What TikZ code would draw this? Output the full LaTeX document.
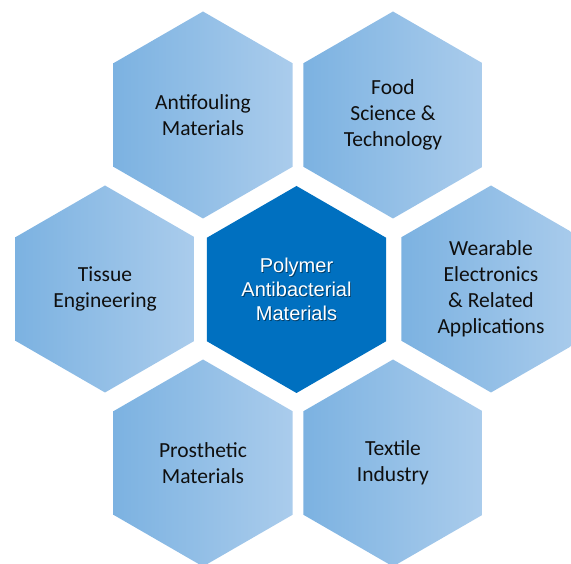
\documentclass[tikz,border=0pt]{standalone}
\usepackage{fontspec}
\setmainfont{Carlito}
\newfontfamily\hubfont{Liberation Sans}
\usetikzlibrary{shapes.geometric}
\definecolor{hexleft}{RGB}{124,178,225}
\definecolor{hexright}{RGB}{170,204,236}
\definecolor{hubblue}{RGB}{0,112,192}
\definecolor{hextext}{RGB}{15,15,15}
\tikzset{
  hexbase/.style={regular polygon,regular polygon sides=6,shape border rotate=30,
                  minimum size=207pt,inner sep=0pt,align=center},
  hexa/.style={hexbase,left color=hexleft,right color=hexright,text=hextext,
               font=\fontsize{21.5}{26}\selectfont},
  hub/.style={hexbase,fill=hubblue},
  hubtext/.style={align=center,inner sep=0pt,text=white,
                  font=\hubfont\fontsize{20}{24}\selectfont}
}

\begin{document}
\begin{tikzpicture}[x=1pt,y=-1pt]
  \useasboundingbox (0,0) rectangle (571,564);
  \clip (0,0) rectangle (571,564);
  % application areas around the hub
  \node[hexa] (antifouling) at (203,115)   {Antifouling\\Materials};
  \node[hexa] (food)        at (393,115)   {Food\\Science \&\\Technology};
  \node[hexa] (tissue)      at (105,289)   {Tissue\\Engineering};
  \node[hexa] (wearable)    at (491,289)   {Wearable\\Electronics\\\& Related\\Applications};
  \node[hexa] (prosthetic)  at (203,463)   {Prosthetic\\Materials};
  \node[hexa] (textile)     at (393,463)   {Textile\\Industry};
  % hub, its label with a soft shadow
  \node[hub] (polymer) at (296.5,289.5) {};
  \node[hubtext,text=black,opacity=0.45] (polymershadow) at ([shift={(0.9,0.9)}]polymer)
    {Polymer\\Antibacterial\\Materials};
  \node[hubtext] (polymerlabel) at (polymer) {Polymer\\Antibacterial\\Materials};
\end{tikzpicture}
\end{document}
